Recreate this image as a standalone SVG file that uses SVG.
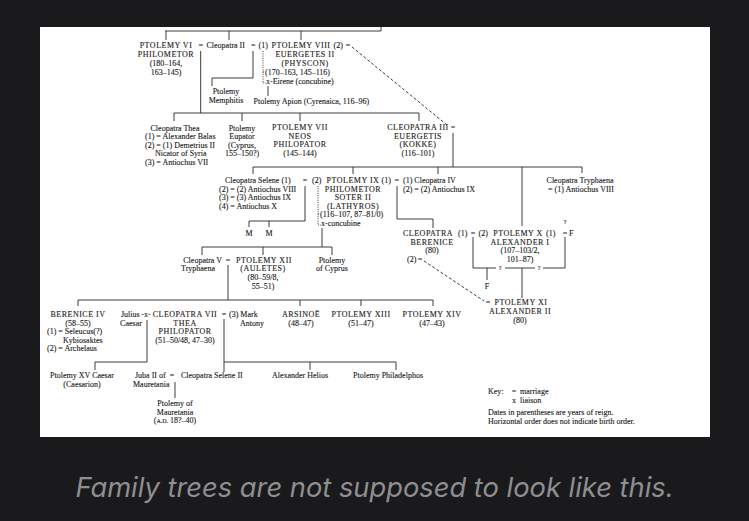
<svg xmlns="http://www.w3.org/2000/svg" width="749" height="521" viewBox="0 0 749 521">
<style>
.t{font-family:"Liberation Serif","Times New Roman",serif;font-size:8px;fill:#1a1a1a;stroke:#1a1a1a;stroke-width:0.12}
.c{letter-spacing:0.5px}
.m{text-anchor:middle}
.q{font-size:6px}
.ln{stroke:#262626;stroke-width:0.9;fill:none}
.dot{stroke-dasharray:1 1.3}
.dash{stroke-dasharray:3 2}
.cap{font-family:Inter,"Noto Sans","Liberation Sans",sans-serif;font-style:italic;font-size:27.3px;fill:#8e8e93;text-anchor:middle}
</style>
<rect width="749" height="521" fill="#1a1a1c"/>
<rect x="40" y="27" width="670" height="410" fill="#ffffff"/>
<g id="connectors" class="ln">
<path d="M165,31 H381 M381,27 V31 M166,31 V40 M229,31 V40 M301,31 V40"/>
<path d="M200.7,51 V113 M174,113 H419 M174,113 V121 M242,113 V121 M300,113 V121 M419,113 V121"/>
<path d="M253,51 V78 H212 V86"/>
<path class="dot" d="M263,51 V83 H266 M263,72 H265"/>
<path d="M268,86 V96"/>
<path class="dash" d="M352,47 L447,125"/>
<path d="M453,133 V167 M253,167 H582 M253,167 V174 M353,167 V174 M438,167 V174 M522,167 V226 M582,167 V173"/>
<path d="M305,186 V221 H249 M249,221 V227 M269,221 V227"/>
<path class="dot" d="M318,186 V225 H321 M318,214 H320"/>
<path d="M322,228 V247 M202,247 H332 M202,247 V255 M263,247 V255 M332,247 V255"/>
<path d="M397,186 V219 H433 V228"/>
<path d="M473,237 V268 H496 M505,268 H535 M543,268 H565 V237 M487,268 V280 M522,268 V298"/>
<path class="dash" d="M424,261 L484,301"/>
<path d="M228,265 V300 M78,300 H433 M78,300 V306 M300,300 V306 M361,300 V306 M433,300 V306"/>
<path d="M147,320 V362 H95 V370"/>
<path d="M224,319 V372 M224,362 H396 M310,362 V370 M396,362 V370"/>
<path d="M175,382 V398"/>
</g>
<g id="marks" class="t m">
<text x="200.7" y="48">=</text>
<text x="253.3" y="48">=</text>
<text x="348" y="48">=</text>
<text x="453" y="130">=</text>
<text x="305" y="183">=</text>
<text x="396.7" y="183">=</text>
<text x="473" y="236">=</text>
<text x="565" y="236">=</text>
<text x="565" y="224" class="q">?</text>
<text x="500" y="270" class="q">?</text>
<text x="539" y="270" class="q">?</text>
<text x="228" y="262.5">=</text>
<text x="224" y="317">=</text>
<text x="172" y="378">=</text>
<text x="420" y="262">=</text>
<text x="488" y="305">=</text>
</g>
<g id="ptolemy6" class="t m">
<text x="166" y="48" class="c">PTOLEMY VI</text>
<text x="166" y="57" class="c">PHILOMETOR</text>
<text x="166" y="66">(180–164,</text>
<text x="166" y="75">163–145)</text>
</g>
<g id="cleopatra2" class="t"><text x="206.5" y="48">Cleopatra II</text></g>
<g id="ptolemy8" class="t">
<text x="258.5" y="48">(1)</text>
<text x="301" y="48" class="c m">PTOLEMY VIII</text>
<text x="333.5" y="48">(2)</text>
<text x="305" y="57" class="c m">EUERGETES II</text>
<text x="305" y="66" class="c m">(PHYSCON)</text>
<text x="265" y="75">(170–163, 145–116)</text>
<text x="266" y="84">x-Eirene (concubine)</text>
</g>
<g id="memphitis" class="t m">
<text x="226" y="94">Ptolemy</text>
<text x="226" y="102.5">Memphitis</text>
</g>
<g id="apion" class="t"><text x="253.5" y="103.5">Ptolemy Apion (Cyrenaica, 116–96)</text></g>
<g id="cleo-thea" class="t">
<text x="175" y="130.5" class="m">Cleopatra Thea</text>
<text x="145" y="139">(1) = Alexander Balas</text>
<text x="145" y="147.5">(2) = (1) Demetrius II</text>
<text x="155" y="156">Nicator of Syria</text>
<text x="145" y="164.5">(3) = Antiochus VII</text>
</g>
<g id="eupator" class="t m">
<text x="242" y="130.5">Ptolemy</text>
<text x="242" y="139">Eupator</text>
<text x="242" y="147.5">(Cyprus,</text>
<text x="242" y="156">155–150?)</text>
</g>
<g id="ptolemy7" class="t m">
<text x="300" y="130" class="c">PTOLEMY VII</text>
<text x="300" y="138.5" class="c">NEOS</text>
<text x="300" y="147" class="c">PHILOPATOR</text>
<text x="300" y="155.5">(145–144)</text>
</g>
<g id="cleopatra3" class="t m">
<text x="418" y="130" class="c">CLEOPATRA III</text>
<text x="418" y="138.5" class="c">EUERGETIS</text>
<text x="418" y="147" class="c">(KOKKE)</text>
<text x="418" y="155.5">(116–101)</text>
</g>
<g id="cleo-selene" class="t">
<text x="225" y="183">Cleopatra Selene (1)</text>
<text x="219" y="191.5">(2) = (2) Antiochus VIII</text>
<text x="219" y="200">(3) = (3) Antiochus IX</text>
<text x="219" y="208.5">(4) = Antiochus X</text>
</g>
<g id="m-children" class="t m">
<text x="249" y="236">M</text>
<text x="269" y="236">M</text>
</g>
<g id="ptolemy9" class="t">
<text x="312" y="183">(2)</text>
<text x="353" y="183" class="c m">PTOLEMY IX</text>
<text x="381.5" y="183">(1)</text>
<text x="353" y="191.5" class="c m">PHILOMETOR</text>
<text x="353" y="200" class="c m">SOTER II</text>
<text x="353" y="208.5" class="c m">(LATHYROS)</text>
<text x="320" y="217">(116–107, 87–81/0)</text>
<text x="321" y="225.5">x-concubine</text>
</g>
<g id="cleopatra4" class="t">
<text x="403" y="183">(1) Cleopatra IV</text>
<text x="403" y="191.5">(2) = (2) Antiochus IX</text>
</g>
<g id="cleo-tryphaena" class="t m">
<text x="580" y="183">Cleopatra Tryphaena</text>
<text x="581" y="192">= (1) Antiochus VIII</text>
</g>
<g id="cleo-berenice" class="t">
<text x="428" y="236" class="c m">CLEOPATRA</text>
<text x="458" y="236">(1)</text>
<text x="432" y="244.5" class="c m">BERENICE</text>
<text x="432" y="253" class="m">(80)</text>
<text x="407" y="262">(2)</text>
</g>
<g id="ptolemy10" class="t">
<text x="478.5" y="236">(2)</text>
<text x="518" y="236" class="c m">PTOLEMY X</text>
<text x="546" y="236">(1)</text>
<text x="520" y="244.5" class="c m">ALEXANDER I</text>
<text x="520" y="253" class="m">(107–103/2,</text>
<text x="520" y="261.5" class="m">101–87)</text>
</g>
<g id="f-spouse" class="t"><text x="569" y="236">F</text></g>
<g id="f-child" class="t m"><text x="487" y="289">F</text></g>
<g id="ptolemy11" class="t m">
<text x="521" y="305" class="c">PTOLEMY XI</text>
<text x="520" y="314" class="c">ALEXANDER II</text>
<text x="520" y="322.5">(80)</text>
</g>
<g id="cleopatra5" class="t">
<text x="222" y="262.5" text-anchor="end">Cleopatra V</text>
<text x="198" y="271" class="m">Tryphaena</text>
</g>
<g id="ptolemy12" class="t m">
<text x="264" y="262.5" class="c">PTOLEMY XII</text>
<text x="263" y="271" class="c">(AULETES)</text>
<text x="263" y="280">(80–59/8,</text>
<text x="263" y="289">55–51)</text>
</g>
<g id="ptolemy-cyprus" class="t m">
<text x="332" y="262.5">Ptolemy</text>
<text x="332" y="271">of Cyprus</text>
</g>
<g id="berenice4" class="t">
<text x="78" y="317" class="c m">BERENICE IV</text>
<text x="78" y="325.5" class="m">(58–55)</text>
<text x="47" y="334">(1) = Seleucus(?)</text>
<text x="63" y="342.5">Kybiosaktes</text>
<text x="47" y="351">(2) = Archelaus</text>
</g>
<g id="caesar" class="t">
<text x="121" y="317">Julius</text>
<text x="146" y="317" class="m">-x-</text>
<text x="131" y="325.5" class="m">Caesar</text>
</g>
<g id="cleopatra7" class="t m">
<text x="185" y="317" class="c">CLEOPATRA VII</text>
<text x="185" y="325.5" class="c">THEA</text>
<text x="185" y="334" class="c">PHILOPATOR</text>
<text x="185" y="342.5">(51–50/48, 47–30)</text>
</g>
<g id="antony" class="t">
<text x="229" y="317">(3) Mark</text>
<text x="252" y="325.5" class="m">Antony</text>
</g>
<g id="arsinoe" class="t m">
<text x="301" y="317" class="c">ARSINOË</text>
<text x="301" y="325.5">(48–47)</text>
</g>
<g id="ptolemy13" class="t m">
<text x="361" y="317" class="c">PTOLEMY XIII</text>
<text x="361" y="325.5">(51–47)</text>
</g>
<g id="ptolemy14" class="t m">
<text x="432" y="317" class="c">PTOLEMY XIV</text>
<text x="432" y="325.5">(47–43)</text>
</g>
<g id="caesarion" class="t m">
<text x="82" y="378">Ptolemy XV Caesar</text>
<text x="82" y="387">(Caesarion)</text>
</g>
<g id="juba" class="t">
<text x="135" y="378">Juba II of</text>
<text x="133" y="387">Mauretania</text>
</g>
<g id="selene2" class="t"><text x="181" y="378">Cleopatra Selene II</text></g>
<g id="helios" class="t m"><text x="300" y="378">Alexander Helios</text></g>
<g id="philadelphos" class="t m"><text x="388" y="378">Ptolemy Philadelphos</text></g>
<g id="ptolemy-maur" class="t m">
<text x="175" y="406">Ptolemy of</text>
<text x="175" y="414.5">Mauretania</text>
<text x="175" y="423">(<tspan font-size="6">A.D.</tspan> 18?–40)</text>
</g>
<g id="key" class="t">
<text x="488" y="394">Key:</text>
<text x="514" y="394" class="m">=</text>
<text x="520" y="394">marriage</text>
<text x="514" y="402.5" class="m">x</text>
<text x="520" y="402.5">liaison</text>
<text x="488" y="415">Dates in parentheses are years of reign.</text>
<text x="488" y="424">Horizontal order does not indicate birth order.</text>
</g>
<text class="cap" x="374.5" y="497">Family trees are not supposed to look like this.</text>
</svg>
